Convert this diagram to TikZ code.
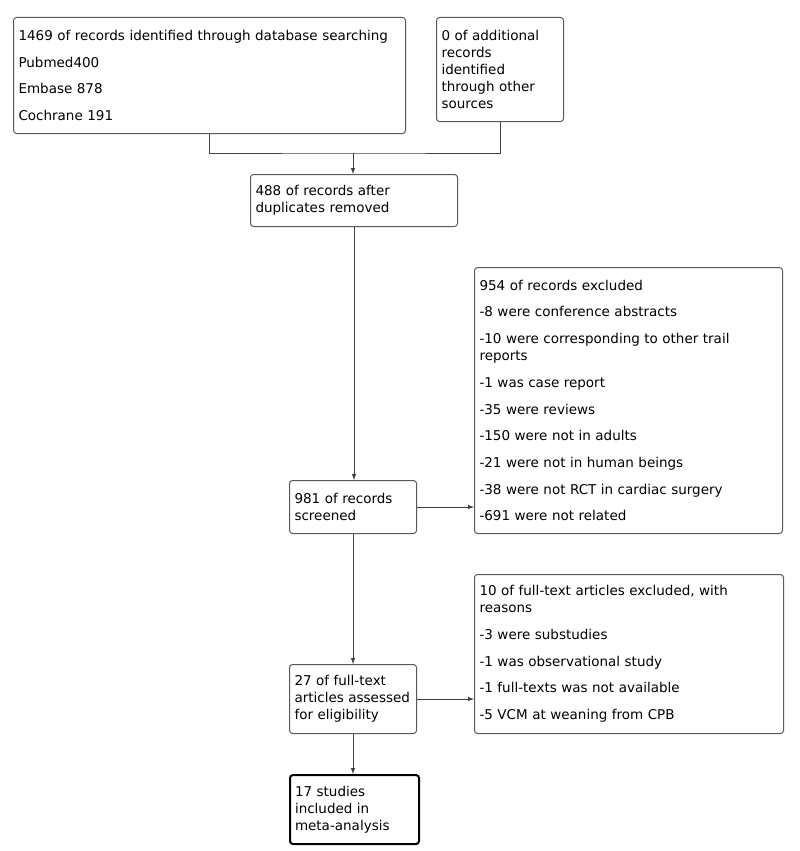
\documentclass[tikz,border=0pt]{standalone}
\usepackage{fontspec}
\setmainfont{DejaVu Sans}
\usepackage{tikz}
\usetikzlibrary{arrows}
\usetikzlibrary{positioning}
\tikzstyle{stepbox}=[rectangle,draw=black!65,line width=1pt,rounded corners=3pt,anchor=north west,align=left,inner xsep=5pt,inner ysep=0pt,font=\fontsize{13.5}{17}\selectfont]
\tikzstyle{finalbox}=[stepbox,draw=black,line width=2pt]
\tikzstyle{edge} = [draw,line width=1pt,black!75,->,>=latex]
\tikzstyle{joinline} = [draw,line width=1pt,black!75]

\begin{document}
\begin{tikzpicture}[x=1pt,y=-1pt]

 \useasboundingbox (0,0) rectangle (800,851);

 %identification
 \node[stepbox,text width=382pt,minimum height=116pt] (ident) at (13,17)
   {1469 of records identified through database searching\\[9.7pt]Pubmed400\\[9.7pt]Embase 878\\[9.7pt]Cochrane 191};
 \node[stepbox,text width=117pt,minimum height=104pt] (other) at (436,17)
   {0 of additional\\records\\identified\\through other\\sources};

 \coordinate (join) at (353,153);
 \path[joinline] (ident.south) |- (join) -| (other.south);

 %left column
 \foreach \x/\y/\w/\h/\name/\label in {
     250/174/197/52/dedup/{488 of records after\\duplicates removed},
     289/480/117/53/screen/{981 of records\\screened},
     289/664/117/69/full/{27 of full-text\\articles assessed\\for eligibility}}
   \node[stepbox,text width=\w pt,minimum height=\h pt] (\name) at (\x,\y) {\label};

 \node[finalbox,text width=119pt,minimum height=69pt] (incl) at (289,774)
   {17 studies\\included in\\meta-analysis};

 %exclusions
 \node[stepbox,text width=298pt,minimum height=266pt] (excl) at (474,267)
   {954 of records excluded\\[9.7pt]-8 were conference abstracts\\[9.7pt]-10 were corresponding to other trail\\reports\\[9.7pt]-1 was case report\\[9.7pt]-35 were reviews\\[9.7pt]-150 were not in adults\\[9.7pt]-21 were not in human beings\\[9.7pt]-38 were not RCT in cardiac surgery\\[9.7pt]-691 were not related};
 \node[stepbox,text width=299pt,minimum height=159pt] (fullexcl) at (474,574)
   {10 of full-text articles excluded, with\\reasons\\[9.7pt]-3 were substudies\\[9.7pt]-1 was observational study\\[9.7pt]-1 full-texts was not available\\[9.7pt]-5 VCM at weaning from CPB};

 \foreach \source/ \dest in {join/dedup, dedup/screen, screen/full, full/incl}
   \path[edge] (\source) -- (\source |- \dest.north);

 \foreach \source/ \dest in {screen/excl, full/fullexcl}
   \path[edge] (\source.east) -- (\source.east -| \dest.west);

\end{tikzpicture}
\end{document}
